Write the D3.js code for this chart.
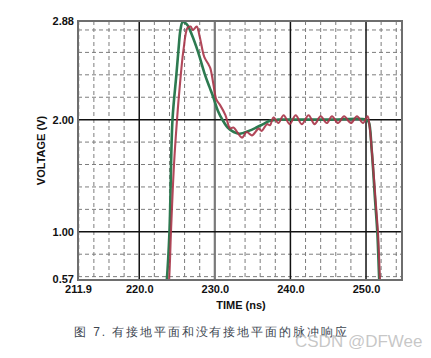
<!DOCTYPE html>
<html>
<head>
<meta charset="utf-8">
<script src="https://cdn.jsdelivr.net/npm/d3@7"></script>
<style>
  body { margin: 0; background: #fff; }
  svg text { font-family: "Liberation Sans", Arial, sans-serif; }
</style>
</head>
<body>
<div id="chart"></div>
<script>
// x ticks / y ticks shown on the axes
const xTicks = [211.9, 220.0, 230.0, 240.0, 250.0];
const yTicks = [0.57, 1.00, 2.00, 2.88];
const xMajor = [220, 240, 250];
const yMajor = [1.0, 2.0];

// with ground plane (green)
const greenT = [223.4, 223.65, 224.0, 224.4, 224.9, 225.2, 225.45, 225.75, 226.3, 227.0, 227.8, 228.7, 229.3, 229.8, 230.4, 231.0,
  231.7, 232.5, 233.3, 234.5, 235.5, 236.4, 237.3, 238.3, 240.0, 245.0, 250.0, 250.35, 250.75, 251.2, 251.5, 251.75, 251.9];
const greenV = [0.40, 0.57, 1.00, 2.00, 2.39, 2.63, 2.80, 2.87, 2.85, 2.75, 2.60, 2.40, 2.29, 2.20, 2.08, 2.00,
  1.93, 1.89, 1.875, 1.90, 1.93, 1.96, 1.99, 2.00, 2.00, 2.00, 2.00, 1.98, 1.73, 1.28, 0.99, 0.57, 0.40];

// without ground plane (red)
const redT = [223.7, 223.95, 224.2, 224.6, 225.0, 225.3, 225.85, 226.4, 226.8, 227.1, 227.6, 228.0, 228.6, 229.1, 229.4, 229.8,
  230.2, 230.7, 231.4, 231.8, 232.0, 232.45, 233.6, 234.2, 234.9, 235.8, 236.2, 236.9, 237.3, 237.75,
  238.4, 239.1, 239.9, 240.7, 241.5, 242.4, 243.2, 244.0, 244.8, 245.5, 246.3, 247.1, 248.0, 248.8, 249.6, 250.2,
  250.45, 250.8, 251.3, 251.6, 251.85, 252.0];
const redV = [0.40, 0.57, 1.00, 1.60, 2.00, 2.25, 2.62, 2.82, 2.83, 2.80, 2.83, 2.74, 2.56, 2.50, 2.46, 2.32,
  2.18, 2.13, 2.04, 1.95, 1.92, 1.93, 1.84, 1.89, 1.86, 1.92, 1.90, 1.96, 1.95, 2.02,
  1.97, 2.04, 1.96, 2.04, 1.96, 2.04, 1.96, 2.03, 1.97, 2.03, 1.97, 2.03, 1.97, 2.03, 1.97, 2.03,
  1.95, 1.70, 1.25, 0.97, 0.57, 0.40];

const caption = "图 7. 有接地平面和没有接地平面的脉冲响应";

const width = 431, height = 358;
const margin = { top: 21, left: 78, right: 29, bottom: 78 };
const innerW = width - margin.left - margin.right;
const innerH = height - margin.top - margin.bottom;

const svg = d3.select('#chart').append('svg')
  .attr('width', width)
  .attr('height', height);

const xScale = d3.scaleLinear().domain([211.9, 254.76]).range([0, innerW]);
const yScale = d3.scaleLinear().domain([0.57, 2.88]).range([innerH, 0]);

const chart = svg.append('g')
  .attr('transform', `translate(${margin.left},${margin.top})`);

chart.append('defs').append('clipPath').attr('id', 'clip')
  .append('rect').attr('width', innerW).attr('height', innerH);

// dashed grid every 2 ns and 0.2 V
const minorX = d3.range(212, 255, 2).filter(d => d % 10 !== 0);
const minorY = d3.range(0.6, 2.81, 0.2).filter(d => Math.abs(d - 1) > 0.01 && Math.abs(d - 2) > 0.01);

chart.selectAll('.gx').data(minorX).enter().append('line')
  .attr('x1', d => xScale(d)).attr('x2', d => xScale(d))
  .attr('y1', 0).attr('y2', innerH)
  .attr('stroke', '#7d7d7d').attr('stroke-width', 1).attr('stroke-dasharray', '4,3');

chart.selectAll('.gy').data(minorY).enter().append('line')
  .attr('x1', 0).attr('x2', innerW)
  .attr('y1', d => yScale(d)).attr('y2', d => yScale(d))
  .attr('stroke', '#7d7d7d').attr('stroke-width', 1).attr('stroke-dasharray', '4,3');

// solid grid lines
chart.selectAll('.mx').data(xMajor).enter().append('line')
  .attr('x1', d => xScale(d)).attr('x2', d => xScale(d))
  .attr('y1', 0).attr('y2', innerH)
  .attr('stroke', '#111').attr('stroke-width', 1.5);

chart.append('line')
  .attr('x1', xScale(230)).attr('x2', xScale(230))
  .attr('y1', 0).attr('y2', innerH)
  .attr('stroke', '#7a7a7a').attr('stroke-width', 2.2);

chart.selectAll('.my').data(yMajor).enter().append('line')
  .attr('x1', 0).attr('x2', innerW)
  .attr('y1', d => yScale(d)).attr('y2', d => yScale(d))
  .attr('stroke', '#111').attr('stroke-width', 1.5);

// the traces
const line = d3.line()
  .x(d => xScale(d[0]))
  .y(d => yScale(d[1]))
  .curve(d3.curveCatmullRom.alpha(0.5));

const traces = chart.append('g').attr('clip-path', 'url(#clip)');

traces.append('path')
  .datum(greenT.map((t, i) => [t, greenV[i]]))
  .attr('fill', 'none')
  .attr('stroke', '#2d7a50')
  .attr('stroke-width', 2.6)
  .attr('d', line);

traces.append('path')
  .datum(redT.map((t, i) => [t, redV[i]]))
  .attr('fill', 'none')
  .attr('stroke', '#a83448')
  .attr('stroke-opacity', 0.9)
  .attr('stroke-width', 2.1)
  .attr('d', line);

// frame
chart.append('rect')
  .attr('width', innerW).attr('height', innerH)
  .attr('fill', 'none').attr('stroke', '#6e6e6e').attr('stroke-width', 2);

// axes
const xAxis = d3.axisBottom(xScale).tickValues(xTicks).tickFormat(d3.format('.1f')).tickSize(0).tickPadding(5);
const yAxis = d3.axisLeft(yScale).tickValues(yTicks).tickFormat(d3.format('.2f')).tickSize(0).tickPadding(4);

const xg = chart.append('g').attr('transform', `translate(0,${innerH})`).call(xAxis);
const yg = chart.append('g').call(yAxis);
[xg, yg].forEach(g => {
  g.select('.domain').remove();
  g.selectAll('text')
    .attr('font-family', '"Liberation Sans", Arial, sans-serif')
    .attr('font-size', 11).attr('font-weight', 'bold').attr('fill', '#111');
});
// 0.57 sits right on top of 211.9, nudge it up a touch
yg.selectAll('text').filter(d => d === 0.57).attr('dy', '0.2em');

// axis titles
chart.append('text')
  .attr('x', 163).attr('y', innerH + 29)
  .attr('text-anchor', 'middle')
  .attr('font-size', 11).attr('font-weight', 'bold').attr('fill', '#111')
  .text('TIME (ns)');

chart.append('text')
  .attr('transform', 'rotate(-90)')
  .attr('x', -innerH / 2).attr('y', -33)
  .attr('text-anchor', 'middle')
  .attr('font-size', 11).attr('font-weight', 'bold').attr('fill', '#111')
  .text('VOLTAGE (V)');

// caption + watermark
svg.append('text')
  .attr('x', 74).attr('y', 336)
  .attr('font-family', '"Noto Sans CJK SC", sans-serif')
  .attr('font-size', 12).attr('letter-spacing', 1.9).attr('fill', '#3d4650')
  .text(caption);

svg.append('text')
  .attr('x', 295).attr('y', 347)
  .attr('font-family', '"Noto Sans", sans-serif')
  .attr('font-size', 17).attr('fill', '#bdbdbd').attr('fill-opacity', 0.85)
  .text('CSDN @DFWee');
</script>
</body>
</html>
